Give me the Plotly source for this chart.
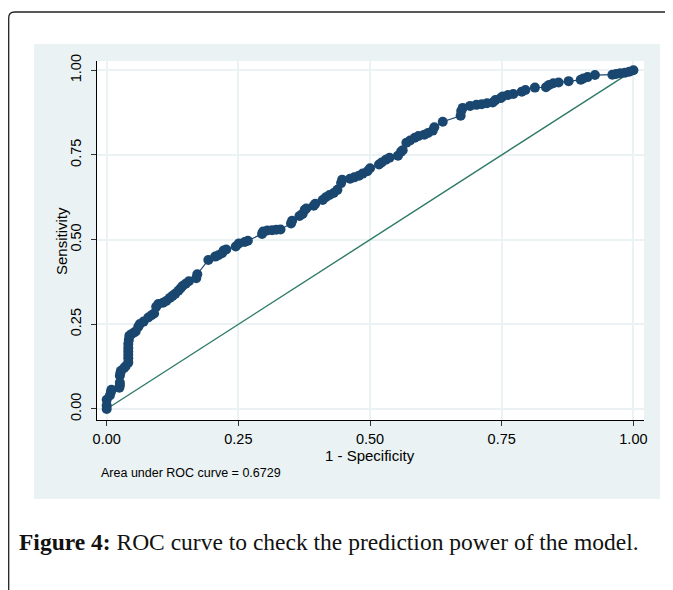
import plotly.graph_objects as go

# ROC curve points (1 - specificity, sensitivity)
fpr = [0.000, 0.000, 0.000, 0.006, 0.008, 0.009, 0.024, 0.025, 0.025, 0.025,
       0.026, 0.027, 0.033, 0.036, 0.041, 0.041, 0.041, 0.041, 0.041, 0.041,
       0.042, 0.043, 0.047, 0.052, 0.055, 0.060, 0.063, 0.070, 0.079, 0.085,
       0.090, 0.094, 0.098, 0.107, 0.113, 0.120, 0.125, 0.130, 0.136, 0.140,
       0.144, 0.150, 0.156, 0.170, 0.172, 0.193, 0.206, 0.212, 0.219, 0.222,
       0.227, 0.245, 0.251, 0.262, 0.268, 0.295, 0.297, 0.305, 0.314, 0.322,
       0.330, 0.350, 0.352, 0.366, 0.372, 0.376, 0.379, 0.393, 0.396, 0.410,
       0.416, 0.423, 0.431, 0.438, 0.445, 0.447, 0.462, 0.470, 0.479, 0.486,
       0.495, 0.500, 0.517, 0.522, 0.530, 0.537, 0.553, 0.559, 0.562, 0.569,
       0.576, 0.585, 0.592, 0.603, 0.610, 0.619, 0.622, 0.638, 0.672, 0.673,
       0.676, 0.690, 0.702, 0.712, 0.722, 0.733, 0.738, 0.748, 0.752, 0.762,
       0.772, 0.788, 0.795, 0.813, 0.834, 0.840, 0.848, 0.858, 0.877, 0.900,
       0.905, 0.913, 0.927, 0.960, 0.967, 0.975, 0.984, 0.992, 1.000]
tpr = [0.000, 0.010, 0.027, 0.040, 0.050, 0.057, 0.063, 0.070, 0.078, 0.098,
       0.106, 0.113, 0.121, 0.126, 0.137, 0.150, 0.160, 0.170, 0.180, 0.192,
       0.204, 0.216, 0.221, 0.226, 0.229, 0.243, 0.251, 0.258, 0.270, 0.277,
       0.282, 0.302, 0.310, 0.314, 0.319, 0.328, 0.334, 0.340, 0.349, 0.356,
       0.363, 0.370, 0.377, 0.386, 0.398, 0.440, 0.450, 0.454, 0.460, 0.468,
       0.471, 0.480, 0.489, 0.493, 0.497, 0.517, 0.524, 0.527, 0.528, 0.529,
       0.530, 0.548, 0.556, 0.570, 0.576, 0.588, 0.592, 0.600, 0.606, 0.617,
       0.625, 0.632, 0.638, 0.647, 0.667, 0.677, 0.680, 0.684, 0.689, 0.695,
       0.702, 0.711, 0.722, 0.728, 0.736, 0.742, 0.748, 0.760, 0.764, 0.786,
       0.793, 0.801, 0.806, 0.810, 0.815, 0.822, 0.832, 0.848, 0.866, 0.880,
       0.889, 0.895, 0.898, 0.900, 0.903, 0.905, 0.912, 0.918, 0.923, 0.927,
       0.930, 0.937, 0.942, 0.949, 0.950, 0.957, 0.962, 0.964, 0.968, 0.972,
       0.976, 0.980, 0.986, 0.987, 0.989, 0.991, 0.993, 0.996, 1.000]
ref_x = [0, 1]
ref_y = [0, 1]
tick_vals = [0, 0.25, 0.5, 0.75, 1.0]
tick_text = ["0.00", "0.25", "0.50", "0.75", "1.00"]
auc_text = "Area under ROC curve = 0.6729"
caption_bold = "Figure 4:"
caption_rest = " ROC curve to check the prediction power of the model."

# the page body adds an 8px margin, so the figure is drawn 8px smaller
OFF = 8
W, H = 673 - OFF, 590 - OFF
ML, MR, MT, MB = 97 - OFF, 29, 61 - OFF, 170
PW, PH = W - ML - MR, H - MT - MB


def px(x):
    return (x - OFF - ML) / PW


def py(y):
    return (H - MB - (y - OFF)) / PH


NAVY = "#1A476F"
GREEN = "#2E7A68"
PANEL = "#EAF2F3"
FONT = "Liberation Sans, Arial, sans-serif"

fig = go.Figure()
fig.add_trace(go.Scatter(x=ref_x, y=ref_y, mode="lines",
                         line=dict(color=GREEN, width=1.4),
                         hoverinfo="skip", showlegend=False))
fig.add_trace(go.Scatter(x=fpr, y=tpr, mode="lines+markers",
                         line=dict(color=NAVY, width=1.2),
                         marker=dict(color=NAVY, size=10, line=dict(width=0)),
                         showlegend=False))

axis_common = dict(
    tickvals=tick_vals, ticktext=tick_text,
    showline=True, linecolor="#000000", linewidth=1.3,
    ticks="outside", ticklen=5, tickwidth=1.3, tickcolor="#333333",
    showgrid=True, gridcolor=PANEL, gridwidth=1.6,
    zeroline=False, mirror=False,
    tickfont=dict(family=FONT, size=14.5, color="#000000"),
)
fig.update_xaxes(range=[-0.0184, 1.0201], **axis_common)
fig.update_yaxes(range=[-0.0325, 1.0275], tickangle=-90,
                 ticklabelstandoff=4, **axis_common)

shapes = [
    dict(type="rect", xref="paper", yref="paper",
         x0=px(34), x1=px(660), y0=py(499), y1=py(44),
         fillcolor=PANEL, line=dict(width=0), layer="below"),
    dict(type="rect", xref="paper", yref="paper",
         x0=0, x1=1, y0=0, y1=1,
         fillcolor="#FFFFFF", line=dict(width=0), layer="below"),
    dict(type="path", xref="paper", yref="paper",
         path=(f"M {px(8.7)},{py(600)} L {px(8.7)},{py(18)} "
               f"Q {px(8.7)},{py(12)} {px(14.7)},{py(12)} L {px(690)},{py(12)}"),
         line=dict(color="#222222", width=1.3), layer="above"),
]

annotations = [
    dict(text="1 - Specificity", xref="paper", yref="paper",
         x=px(370), y=py(455), xanchor="center", yanchor="middle",
         showarrow=False, font=dict(family=FONT, size=15, color="#000000")),
    dict(text="Sensitivity", xref="paper", yref="paper",
         x=px(61), y=py(241), xanchor="center", yanchor="middle", textangle=-90,
         showarrow=False, font=dict(family=FONT, size=15, color="#000000")),
    dict(text=auc_text, xref="paper", yref="paper",
         x=px(99), y=py(473), xanchor="left", yanchor="middle",
         showarrow=False, font=dict(family=FONT, size=12.5, color="#000000")),
    dict(text=f"<b>{caption_bold}</b>{caption_rest}", xref="paper", yref="paper",
         x=px(17), y=py(542), xanchor="left", yanchor="middle",
         showarrow=False,
         font=dict(family="Liberation Serif, DejaVu Serif, serif", size=23.5,
                   color="#111111")),
]

fig.update_layout(
    width=W, height=H,
    margin=dict(l=ML, r=MR, t=MT, b=MB, pad=0),
    paper_bgcolor="#FFFFFF", plot_bgcolor="#FFFFFF",
    shapes=shapes, annotations=annotations,
    font=dict(family=FONT),
)

fig.write_html("out.html")
